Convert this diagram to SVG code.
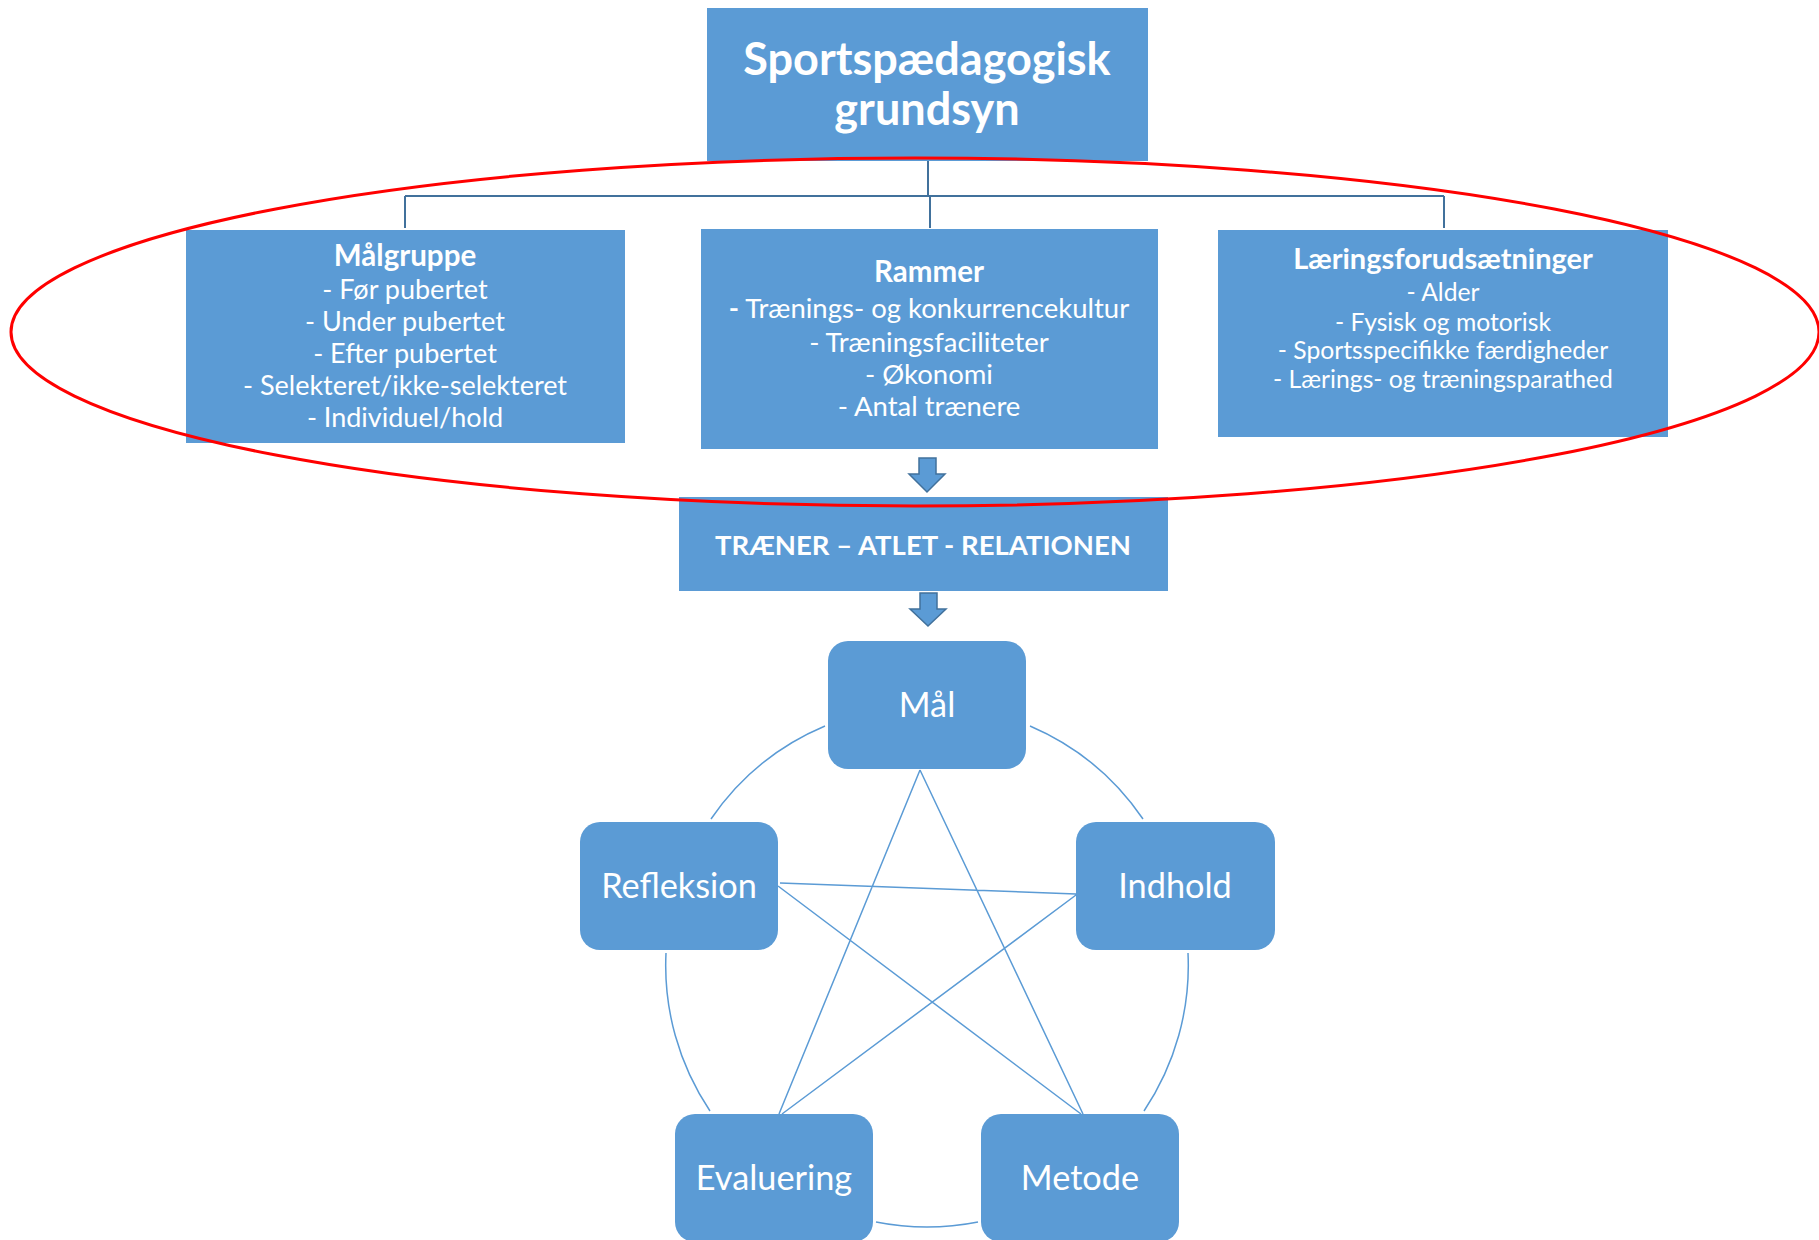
<svg xmlns="http://www.w3.org/2000/svg" width="1819" height="1240" viewBox="0 0 1819 1240">
<style>
.box{fill:#5B9BD5;}
.t{fill:#FFFFFF;font-family:Lato,"Open Sans","DejaVu Sans",sans-serif;text-anchor:middle;}
.b{font-weight:bold;}
.conn{stroke:#41719C;stroke-width:2;fill:none;}
.thin{stroke:#5B9BD5;stroke-width:1.5;fill:none;}
.arrow{fill:#5B9BD5;stroke:#41719C;stroke-width:1.5;}
</style>
<rect width="1819" height="1240" fill="#FFFFFF"/>
<g id="connectors">
<path class="conn" d="M928,161 V196 M405,196 H1444 M405,196 V228 M930,196 V228 M1444,196 V228"/>
<polygon class="arrow" points="919,458 936,458 936,474 945,474 927,492 909,474 919,474"/>
<polygon class="arrow" points="920,593 937,593 937,609 946,609 928,626 910,609 920,609"/>
<path class="thin" d="M825,726 A261,261 0 0 0 711,819"/>
<path class="thin" d="M1030,726 A261,261 0 0 1 1143,819"/>
<path class="thin" d="M666,953 A261,261 0 0 0 710,1111"/>
<path class="thin" d="M1188,953 A261,261 0 0 1 1144,1111"/>
<path class="thin" d="M876,1222 A261,261 0 0 0 978,1222"/>
<path class="thin" d="M920,770 L779,1114 M920,770 L1083,1114 M780,883 L1076,894 M778,886 L1081,1114 M1076,895 L782,1114"/>
</g>
<g id="node-grundsyn">
<rect class="box" x="707" y="8" width="441" height="153"/>
<text class="t b" x="927" y="75" font-size="45">Sportspædagogisk</text>
<text class="t b" x="927" y="125" font-size="45">grundsyn</text>
</g>
<g id="node-malgruppe">
<rect class="box" x="186" y="230" width="439" height="213"/>
<text class="t b" x="405" y="266" font-size="29.5">Målgruppe</text>
<text class="t" x="405" y="299" font-size="27">- Før pubertet</text>
<text class="t" x="405" y="331" font-size="27">- Under pubertet</text>
<text class="t" x="405" y="363" font-size="27">- Efter pubertet</text>
<text class="t" x="405" y="395" font-size="27">- Selekteret/ikke-selekteret</text>
<text class="t" x="405" y="427" font-size="27">- Individuel/hold</text>
</g>
<g id="node-rammer">
<rect class="box" x="701" y="229" width="457" height="220"/>
<text class="t b" x="929" y="282" font-size="29.5">Rammer</text>
<text class="t" x="929" y="318" font-size="27.5"><tspan class="b">-</tspan> Trænings- og konkurrencekultur</text>
<text class="t" x="929" y="352" font-size="27.5">- Træningsfaciliteter</text>
<text class="t" x="929" y="384" font-size="27.5">- Økonomi</text>
<text class="t" x="929" y="416" font-size="27.5">- Antal trænere</text>
</g>
<g id="node-laering">
<rect class="box" x="1218" y="230" width="450" height="207"/>
<text class="t b" x="1443" y="269" font-size="29">Læringsforudsætninger</text>
<text class="t" x="1443" y="301" font-size="24.7">- Alder</text>
<text class="t" x="1443" y="331" font-size="24.7">- Fysisk og motorisk</text>
<text class="t" x="1443" y="359" font-size="24.7">- Sportsspecifikke færdigheder</text>
<text class="t" x="1443" y="388" font-size="24.7">- Lærings- og træningsparathed</text>
</g>
<g id="node-relation">
<rect class="box" x="679" y="497" width="489" height="94"/>
<text class="t b" x="923" y="555" font-size="27.5">TRÆNER – ATLET - RELATIONEN</text>
</g>
<g id="node-mal">
<rect class="box" x="828" y="641" width="198" height="128" rx="20"/>
<text class="t" x="927" y="717" font-size="34.3">Mål</text>
</g>
<g id="node-refleksion">
<rect class="box" x="580" y="822" width="198" height="128" rx="20"/>
<text class="t" x="679" y="898" font-size="34.3">Refleksion</text>
</g>
<g id="node-indhold">
<rect class="box" x="1076" y="822" width="199" height="128" rx="20"/>
<text class="t" x="1175" y="898" font-size="34.3">Indhold</text>
</g>
<g id="node-evaluering">
<rect class="box" x="675" y="1114" width="198" height="128" rx="20"/>
<text class="t" x="774" y="1190" font-size="34.3">Evaluering</text>
</g>
<g id="node-metode">
<rect class="box" x="981" y="1114" width="198" height="128" rx="20"/>
<text class="t" x="1080" y="1190" font-size="34.3">Metode</text>
</g>
<ellipse cx="915" cy="332" rx="904" ry="174" fill="none" stroke="#FF0000" stroke-width="3"/>
</svg>
